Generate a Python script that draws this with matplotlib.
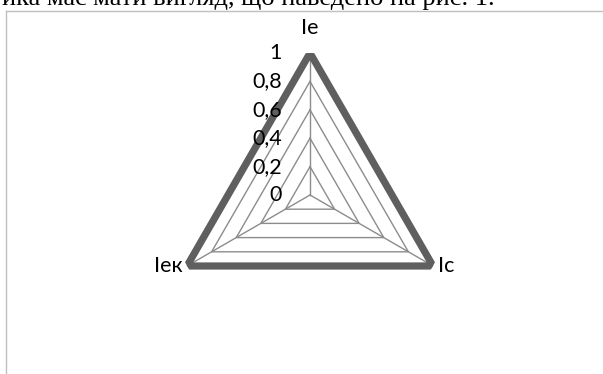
import numpy as np
import matplotlib.pyplot as plt
from matplotlib.lines import Line2D

# data
categories = ['Ie', 'Ic', 'Iек']
values = [1, 1, 1]
ticks = [0, 0.2, 0.4, 0.6, 0.8, 1]
tick_labels = ['0', '0,2', '0,4', '0,6', '0,8', '1']

W, H = 603, 374
fig = plt.figure(figsize=(W / 100, H / 100), dpi=100)

# text line of the document above the chart (cut off at the top)
fig.text(495 / W, 1 - 5 / H, 'ика має мати вигляд, що наведено на рис. 1.',
         family='Liberation Serif', fontsize=19, ha='right', va='baseline',
         color='black')

# chart frame (only left and top edges are visible)
fig.add_artist(Line2D([5.5 / W, 5.5 / W], [0, 1 - 11 / H], transform=fig.transFigure,
                      color='#bfbfbf', lw=1.0))
fig.add_artist(Line2D([5.5 / W, 1], [1 - 11 / H, 1 - 11 / H], transform=fig.transFigure,
                      color='#bfbfbf', lw=1.0))

cx, cy, R = 310, 195, 142
ax = fig.add_axes([(cx - R) / W, (H - cy - R) / H, 2 * R / W, 2 * R / H], projection='polar')
ax.set_theta_zero_location('N')
ax.set_theta_direction(-1)
ax.set_ylim(0, 1)
ax.grid(False)
ax.spines['polar'].set_visible(False)
ax.set_xticks([])
ax.set_yticks([])
ax.patch.set_alpha(0)

n = len(categories)
angles = np.arange(n) * 2 * np.pi / n
closed = np.append(angles, angles[0])

grid_col = '#8c8c8c'
for t in ticks[1:]:
    ax.plot(closed, [t] * (n + 1), color=grid_col, lw=1.0, zorder=1)
for a in angles:
    ax.plot([a, a], [0, 1], color=grid_col, lw=1.0, zorder=1)

ax.plot(closed, np.append(values, values[0]), color='#5f5f5f', lw=5.2,
        solid_joinstyle='round', solid_capstyle='round', zorder=3)

font = 'Lato'
fs = 15.5
for t, lab in zip(ticks, tick_labels):
    ax.annotate(lab, xy=(0, t), xytext=(-28, 0), textcoords='offset pixels',
                ha='right', va='center', fontsize=fs, family=font, annotation_clip=False)

ax.annotate(categories[0], xy=(angles[0], 1), xytext=(0, 25), textcoords='offset pixels',
            ha='center', va='center', fontsize=fs, family=font, annotation_clip=False)
ax.annotate(categories[1], xy=(angles[1], 1), xytext=(5, 0), textcoords='offset pixels',
            ha='left', va='center', fontsize=fs, family=font, annotation_clip=False)
ax.annotate(categories[2], xy=(angles[2], 1), xytext=(-4, 0), textcoords='offset pixels',
            ha='right', va='center', fontsize=fs, family=font, annotation_clip=False)

fig.savefig('out.png', dpi=100)
